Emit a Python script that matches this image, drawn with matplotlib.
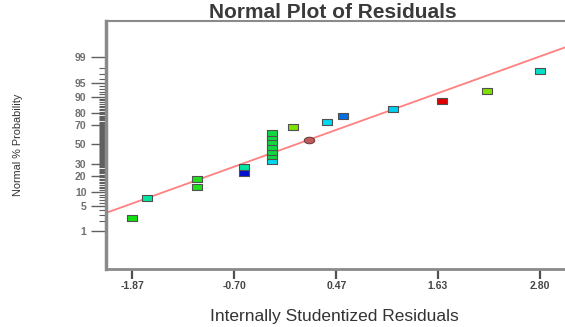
import numpy as np
import matplotlib; matplotlib.use("Agg"); import matplotlib.pyplot as plt
from matplotlib.path import Path
from statistics import NormalDist

# studentized residuals vs. normal % probability (20 runs)
resid = [-1.87, -1.70, -1.125, -1.125, -0.585, -0.585, -0.264,
         -0.264, -0.264, -0.264, -0.264, -0.264, -0.264,
         -0.023, 0.367, 0.54, 1.113, 1.676, 2.20, 2.80]
prob = [2.5, 7.5, 12.5, 17.5, 22.5, 27.5, 32.5,
        37.5, 42.5, 47.5, 52.5, 57.5, 62.5,
        67.5, 72.5, 77.5, 82.5, 87.5, 92.5, 97.5]
colors = ["#10e010", "#00e8a0", "#20e020", "#20e020", "#0010d0", "#00e8a0", "#00d8f0",
          "#10d840", "#10d840", "#10d840", "#10d840", "#10d840", "#10d840",
          "#80e000", "#00d8f0", "#0070e8", "#00d0f0", "#e00000", "#80e000", "#00e0c8"]
center_x, center_p = 0.161, 54.8
line_x = [-2.17, 3.10]
line_p = [3.36, 99.54]

xticks = [-1.87, -0.70, 0.47, 1.63, 2.80]
yticks = [1, 5, 10, 20, 30, 50, 70, 80, 90, 95, 99]

nd = NormalDist()
def fwd(p):
    p = np.clip(np.asarray(p, float), 1e-6, 100 - 1e-6)
    return np.vectorize(lambda v: nd.inv_cdf(v / 100.0), otypes=[float])(p)
def inv(z):
    return np.vectorize(lambda v: nd.cdf(v) * 100.0, otypes=[float])(np.asarray(z, float))

rect = Path([(-1, -0.62), (1, -0.62), (1, 0.62), (-1, 0.62), (-1, -0.62)],
            [Path.MOVETO, Path.LINETO, Path.LINETO, Path.LINETO, Path.CLOSEPOLY])
t = np.linspace(0, 2 * np.pi, 40)
oval = Path(np.c_[np.cos(t), 0.62 * np.sin(t)])

plt.rcParams["font.family"] = ["Liberation Sans", "DejaVu Sans"]
fig = plt.figure(figsize=(5.65, 3.27), dpi=100)
ax = fig.add_axes([106 / 565, 58 / 327, 460 / 565, 248 / 327])
ax.set_yscale("function", functions=(fwd, inv))

ax.plot(line_x, line_p, color="#ff8080", lw=1.3, zorder=2)
for x, p, c in zip(resid, prob, colors):
    ax.plot(x, p, marker=rect, ms=7, mfc=c, mec="#505050", mew=0.8, ls="none", zorder=3)
ax.plot(center_x, center_p, marker=oval, ms=7.5, mfc="#c05a5a", mec="#704040", mew=0.8,
        ls="none", zorder=3)

ax.set_xlim(-2.17, 3.10)
ax.set_ylim(inv(-3.33), inv(3.30))
ax.set_xticks(xticks)
ax.set_xticklabels([f"{v:.2f}" for v in xticks], fontsize=7.5, color="#454545",
                   fontweight="bold")
ax.set_yticks(yticks)
ax.set_yticklabels([str(v) for v in yticks], fontsize=7.5, color="#707070",
                   fontweight="bold")
ax.set_yticks([v for v in range(1, 100) if v not in yticks], minor=True)
ax.tick_params(axis="y", which="major", length=11, width=1, color="#606060", pad=3)
ax.tick_params(axis="y", which="minor", length=5, width=0.8, color="#606060")
ax.tick_params(axis="x", which="major", length=7, width=1.6, color="#505050", pad=1.5)

for s in ("left", "bottom", "top"):
    ax.spines[s].set_color("#8a8a8a")
ax.spines["left"].set_linewidth(2.5)
ax.spines["bottom"].set_linewidth(2.0)
ax.spines["top"].set_linewidth(1.5)
ax.spines["right"].set_visible(False)

fig.text(333 / 565, 1 - 18 / 327, "Normal Plot of Residuals", fontsize=15,
         fontweight="bold", color="#3a3a3a", ha="center", va="baseline")
fig.text(334 / 565, 1 - 316 / 327, "Internally Studentized Residuals", fontsize=12.5,
         color="#333333", ha="center", va="center")
fig.text(18 / 565, 1 - 145 / 327, "Normal % Probability", fontsize=7.8,
         color="#333333", ha="center", va="center", rotation=90)

fig.savefig("out.png", dpi=100)
